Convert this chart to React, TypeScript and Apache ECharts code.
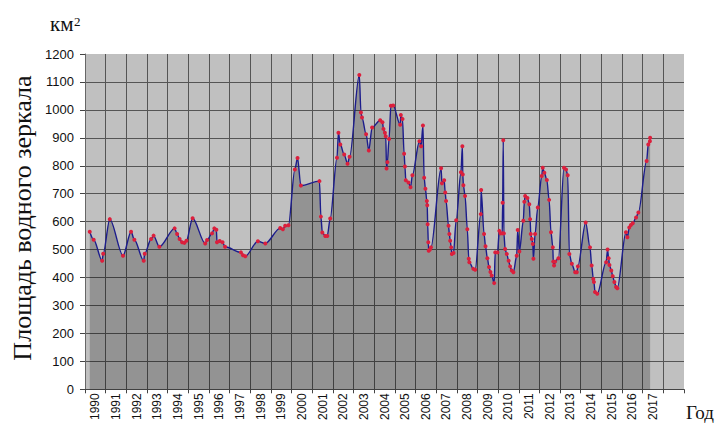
import React, { useEffect, useRef } from "react";
import * as echarts from "echarts";

// Category labels of the year axis (last slot is empty)
const yearLabels: string[] = [
  "1990", "1991", "1992", "1993", "1994", "1995", "1996", "1997", "1998", "1999",
  "2000", "2001", "2002", "2003", "2004", "2005", "2006", "2007", "2008", "2009",
  "2010", "2011", "2012", "2013", "2014", "2015", "2016", "2017", "",
];

// Observation dates (decimal years)
const dates1990s: number[] = [
  1990.23, 1990.42, 1990.83, 1990.88, 1991.2, 1991.84, 1992.23, 1992.39, 1992.84, 1992.89,
  1993.2, 1993.32, 1993.6, 1994.34, 1994.46, 1994.58, 1994.7, 1994.81, 1994.91, 1995.21,
  1995.82, 1995.91, 1996.15, 1996.26, 1996.36, 1996.39, 1996.52, 1996.66, 1996.78, 1997.55,
  1997.65, 1997.76, 1998.37, 1998.73, 1999.45, 1999.58, 1999.69, 1999.85,
];
const area1990s: number[] = [
  564, 535, 460, 485, 609, 478, 564, 535, 460, 485,
  538, 550, 510, 576, 556, 538, 526, 524, 532, 612,
  522, 534, 558, 576, 571, 526, 531, 526, 510, 490,
  480, 476, 530, 522, 577, 573, 585, 587,
];

const dates2000s: number[] = [
  2000.16, 2000.29, 2000.45, 2001.35, 2001.42, 2001.49, 2001.63, 2001.73, 2001.87, 2002.2,
  2002.27, 2002.36, 2002.55, 2002.71, 2002.81, 2003.28, 2003.36, 2003.41, 2003.61, 2003.74,
  2003.9, 2004.29, 2004.4, 2004.45, 2004.52, 2004.56, 2004.6, 2004.64, 2004.72, 2004.81,
  2004.92, 2005.26, 2005.29, 2005.37, 2005.45, 2005.49, 2005.53, 2005.66, 2005.76, 2005.85,
  2006.19, 2006.27, 2006.36, 2006.42, 2006.48, 2006.55, 2006.57, 2006.59, 2006.62, 2006.64,
  2006.7, 2006.75, 2007.24, 2007.28, 2007.39, 2007.44, 2007.48, 2007.6, 2007.64, 2007.68,
  2007.73, 2007.76, 2007.84, 2007.97, 2008.2, 2008.27, 2008.29, 2008.32, 2008.4, 2008.51,
  2008.58, 2008.61, 2008.8, 2008.89, 2009.16, 2009.18, 2009.32, 2009.39, 2009.48, 2009.56,
  2009.63, 2009.69, 2009.81, 2009.86, 2009.97,
];
const area2000s: number[] = [
  787, 828, 729, 745, 618, 561, 549, 549, 611, 829,
  918, 876, 840, 807, 832, 1125, 991, 973, 913, 855,
  937, 963, 956, 932, 918, 906, 790, 813, 896, 1015,
  1016, 947, 982, 967, 843, 797, 748, 740, 723, 766,
  888, 870, 944, 757, 718, 674, 659, 591, 526, 496,
  500, 508, 791, 737, 748, 704, 674, 585, 556, 532,
  508, 484, 488, 605, 777, 870, 769, 730, 692, 573,
  467, 455, 431, 428, 627, 713, 556, 512, 469, 438,
  420, 407, 380, 490, 490,
];

const dates2010s: number[] = [
  2010.06, 2010.12, 2010.2, 2010.22, 2010.25, 2010.28, 2010.34, 2010.42, 2010.51, 2010.58,
  2010.66, 2010.74, 2010.9, 2010.95, 2011.03, 2011.22, 2011.27, 2011.31, 2011.42, 2011.51,
  2011.55, 2011.58, 2011.63, 2011.68, 2011.71, 2011.79, 2011.92, 2012.11, 2012.16, 2012.24,
  2012.36, 2012.47, 2012.56, 2012.65, 2012.67, 2012.71, 2012.76, 2012.92, 2013.19, 2013.29,
  2013.37, 2013.45, 2013.57, 2013.73, 2013.81, 2013.86, 2014.24, 2014.45, 2014.53, 2014.61,
  2014.64, 2014.69, 2014.8, 2015.23, 2015.3, 2015.35, 2015.39, 2015.48, 2015.55, 2015.63,
  2015.71, 2015.77, 2016.19, 2016.26, 2016.35, 2016.43, 2016.52, 2016.68, 2016.79, 2017.19,
  2017.27, 2017.35, 2017.36,
];
const area2010s: number[] = [
  567, 558, 558, 668, 891, 558, 502, 484, 460, 440,
  425, 419, 478, 570, 493, 603, 671, 692, 685, 662,
  609, 556, 538, 520, 467, 556, 651, 763, 793, 775,
  749, 678, 562, 508, 457, 443, 457, 469, 793, 787,
  766, 484, 449, 419, 419, 440, 597, 508, 443, 395,
  384, 348, 342, 455, 500, 469, 445, 425, 405, 384,
  366, 362, 562, 544, 579, 588, 594, 615, 633, 817,
  876, 888, 900,
];

const yMin = 0;
const yMax = 1200;
const yStep = 100;

export default function App() {
  const ref = useRef<HTMLDivElement>(null);

  useEffect(() => {
    document.body.style.margin = "0";
    if (!ref.current) return;
    const chart = echarts.init(ref.current, undefined, { renderer: "svg" });

    const dates = [...dates1990s, ...dates2000s, ...dates2010s];
    const values = [...area1990s, ...area2000s, ...area2010s];
    const data = dates.map((d, i) => [d, values[i]]);

    const sans = "Liberation Sans";
    const serif = "Liberation Serif";
    const gridColor = "#555555";

    const txt = (text: string, x: number, y: number, size: number, extra: any = {}) => ({
      type: "text",
      x,
      y,
      ...extra,
      style: {
        text,
        fontSize: size,
        fontFamily: serif,
        fill: "#111",
        textAlign: extra.align || "left",
        textVerticalAlign: "middle",
        align: extra.align || "left",
        verticalAlign: "middle",
      },
    });

    chart.setOption({
      animation: false,
      backgroundColor: "#ffffff",
      grid: {
        left: 85,
        right: 33,
        top: 54,
        bottom: 32,
        show: true,
        backgroundColor: "#c0c0c0",
        borderWidth: 0,
      },
      xAxis: [
        {
          type: "category",
          data: yearLabels,
          boundaryGap: true,
          axisLine: { show: true, lineStyle: { color: "#444", width: 1 } },
          axisTick: { show: true, alignWithLabel: false, interval: 0, length: 4, lineStyle: { color: "#444" } },
          axisLabel: {
            interval: 0,
            rotate: 90,
            fontSize: 12,
            fontFamily: sans,
            color: "#111",
            margin: 4,
          },
          splitLine: { show: true, interval: 0, showMinLine: false, showMaxLine: false, lineStyle: { color: gridColor, width: 1 } },
        },
        {
          type: "value",
          min: 1990,
          max: 2019,
          show: false,
        },
      ],
      yAxis: {
        type: "value",
        min: yMin,
        max: yMax,
        interval: yStep,
        axisLine: { show: true, lineStyle: { color: "#666", width: 1 } },
        axisTick: { show: true, length: 5, lineStyle: { color: "#444" } },
        axisLabel: {
          fontSize: 13,
          fontFamily: sans,
          color: "#111",
          margin: 11,
          formatter: (v: number) => String(v),
        },
        splitLine: { show: true, showMaxLine: false, lineStyle: { color: gridColor, width: 1 } },
      },
      series: [
        {
          type: "line",
          xAxisIndex: 1,
          data,
          smooth: 0.3,
          smoothMonotone: "x",
          symbol: "circle",
          symbolSize: 4,
          showAllSymbol: true,
          lineStyle: { color: "#1c1c8c", width: 1.4 },
          itemStyle: { color: "#dc1f3c", borderWidth: 0 },
          areaStyle: { color: "rgba(0,0,0,0.333)", origin: "start" },
        },
      ],
      graphic: [
        txt("Площадь водного зеркала", 22, 218, 26, { rotation: Math.PI / 2, align: "center" }),
        txt("км", 50, 24, 21),
        txt("2", 74, 21, 13),
        txt("Год", 686, 412, 19),
      ],
    });

    return () => chart.dispose();
  }, []);

  return (
    <div
      ref={ref}
      style={{ position: "fixed", left: 0, top: 0, width: 717, height: 423 }}
    />
  );
}
